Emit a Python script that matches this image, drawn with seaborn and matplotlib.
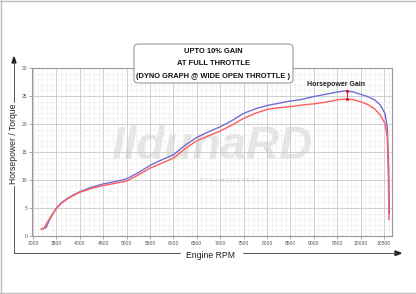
import matplotlib
matplotlib.use("Agg")
import matplotlib.pyplot as plt
from matplotlib.patches import FancyBboxPatch
from matplotlib.lines import Line2D
from matplotlib.ticker import MultipleLocator
import seaborn as sns
import pandas as pd

# ---- data ----
tuned_rpm = [3190, 3280, 3350, 3420, 3500, 3600, 3750, 3900, 4000, 4250, 4500, 4750,
             5000, 5250, 5500, 5750, 6000, 6250, 6500, 6750, 7000, 7250, 7500, 7750,
             8000, 8250, 8500, 8750, 9000, 9250, 9500, 9700, 9850, 10000, 10150, 10300,
             10420, 10520, 10570, 10600, 10615]
tuned_val = [1.3, 1.5, 2.8, 3.9, 5.0, 5.9, 6.8, 7.5, 7.9, 8.7, 9.3, 9.7,
             10.2, 11.3, 12.6, 13.6, 14.5, 16.2, 17.6, 18.6, 19.5, 20.6, 21.9, 22.7,
             23.3, 23.7, 24.1, 24.4, 24.9, 25.3, 25.7, 25.95, 25.7, 25.3, 24.9, 24.3,
             23.4, 21.9, 19.5, 12.0, 4.0]
stock_rpm = [3170, 3230, 3300, 3400, 3500, 3600, 3750, 3900, 4000, 4250, 4500, 4750,
             5000, 5250, 5500, 5750, 6000, 6250, 6500, 6750, 7000, 7250, 7500, 7750,
             8000, 8250, 8500, 8750, 9000, 9250, 9500, 9700, 9850, 10000, 10150, 10300,
             10420, 10520, 10570, 10595, 10605]
stock_val = [1.2, 1.3, 2.4, 3.7, 4.9, 5.8, 6.7, 7.4, 7.8, 8.5, 9.0, 9.4,
             9.8, 10.9, 12.1, 13.0, 13.9, 15.6, 17.0, 17.9, 18.75, 19.8, 21.0, 21.9,
             22.6, 22.9, 23.1, 23.4, 23.6, 23.9, 24.3, 24.5, 24.3, 24.0, 23.5, 22.7,
             21.6, 20.1, 17.7, 10.0, 2.9]
x_ticks = [3000, 3500, 4000, 4500, 5000, 5500, 6000, 6500, 7000, 7500, 8000, 8500,
           9000, 9500, 10000, 10500]
y_ticks = [0, 5, 10, 15, 20, 25, 30]
gain_rpm = 9720
gain_top = 25.9
gain_bottom = 24.5
title_lines = ["UPTO 10% GAIN", "AT FULL THROTTLE", "(DYNO GRAPH @ WIDE OPEN THROTTLE )"]

df = pd.concat([
    pd.DataFrame({"rpm": tuned_rpm, "value": tuned_val, "run": "Tuned"}),
    pd.DataFrame({"rpm": stock_rpm, "value": stock_val, "run": "Stock"}),
])

sns.set_theme(style="white")
plt.rcParams["font.family"] = ["Liberation Sans", "DejaVu Sans"]

W, H = 416, 294
fig = plt.figure(figsize=(W / 100, H / 100), dpi=100)
fig.patch.set_facecolor("white")

ax = fig.add_axes([32 / W, 1 - 236 / H, 360 / W, 168 / H])
ax.set_facecolor("white")

# watermark
ax.text(0.50, 0.53, "IldunaRD", transform=ax.transAxes, fontsize=33, fontweight="bold",
        fontstyle="italic", color="#e4e4e4", ha="center", va="center", zorder=0.5)
ax.text(0.55, 0.33, "D Y N A M O M E T E R S", transform=ax.transAxes, fontsize=3.8,
        color="#cfcfcf", ha="center", va="center", zorder=0.5)

sns.lineplot(data=df, x="rpm", y="value", hue="run", hue_order=["Tuned", "Stock"],
             palette={"Tuned": "#6f6fd2", "Stock": "#ff5c5c"}, linewidth=1.0,
             legend=False, ax=ax, sort=False, zorder=3)

# gain marker
ax.plot([gain_rpm, gain_rpm], [gain_bottom, gain_top], color="#e02020", lw=0.7,
        marker="o", markersize=1.3, zorder=4)
ax.text(gain_rpm - 250, 26.4, "Horsepower Gain", fontsize=5.0, fontweight="bold",
        color="#222222", ha="center", va="bottom", zorder=5)

ax.set_xlim(2979, 10671)
ax.set_ylim(0, 30)
ax.set_xticks(x_ticks)
ax.set_yticks(y_ticks)
ax.xaxis.set_minor_locator(MultipleLocator(100))
ax.yaxis.set_minor_locator(MultipleLocator(1))
ax.grid(which="major", color="#c8c8c8", lw=0.6)
ax.grid(which="minor", color="#ececec", lw=0.4)
ax.set_axisbelow(True)
ax.tick_params(which="major", length=2, width=0.5, color="#888888", labelsize=3.6,
               labelcolor="#555555", pad=1.5, bottom=True, left=True)
ax.tick_params(which="minor", length=0)
for s in ax.spines.values():
    s.set_color("#9a9a9a")
    s.set_linewidth(0.8)
ax.set_xlabel("")
ax.set_ylabel("")

# arrowed axis labels (figure pixel coords)
def fx(px):
    return px / W

def fy(py):
    return 1 - py / H

lc = "#555555"
fig.add_artist(Line2D([fx(14), fx(14)], [fy(253), fy(186)], color=lc, lw=0.7))
fig.add_artist(Line2D([fx(14), fx(14)], [fy(102), fy(62)], color=lc, lw=0.7))
fig.add_artist(Line2D([fx(14), fx(180)], [fy(253), fy(253)], color=lc, lw=0.7))
fig.add_artist(Line2D([fx(243), fx(396)], [fy(253), fy(253)], color=lc, lw=0.7))
fig.patches.append(plt.Polygon([[fx(12), fy(63)], [fx(16), fy(63)], [fx(14), fy(57)]],
                               closed=True, color="#222222", transform=fig.transFigure))
fig.patches.append(plt.Polygon([[fx(395), fy(251)], [fx(395), fy(255.5)], [fx(401), fy(253.2)]],
                               closed=True, color="#222222", transform=fig.transFigure))
fig.text(fx(14), fy(144), "Horsepower / Torque", rotation=90, fontsize=6.2,
         color="#222222", ha="center", va="center")
fig.text(fx(211), fy(255), "Engine RPM", fontsize=6.2, color="#222222",
         ha="center", va="center")

# outer frame (top, left, bottom)
fc = "#bdbdbd"
fig.add_artist(Line2D([0, 1], [fy(0.5), fy(0.5)], color=fc, lw=1))
fig.add_artist(Line2D([fx(0.5), fx(0.5)], [0, 1], color=fc, lw=1))
fig.add_artist(Line2D([0, 1], [fy(292.5), fy(292.5)], color=fc, lw=1))

# title box
box = FancyBboxPatch((fx(134), fy(83)), fx(293) - fx(134), fy(44) - fy(83),
                     boxstyle="round,pad=0,rounding_size=0.012", transform=fig.transFigure,
                     facecolor="white", edgecolor="#9a9a9a", lw=0.8, zorder=10)
fig.patches.append(box)
for i, line in enumerate(title_lines):
    fig.text(fx(213.5), fy(51.5 + 12.3 * i), line, fontsize=5.4, fontweight="bold",
             color="#111111", ha="center", va="center", zorder=11)

fig.savefig("out.png", dpi=100, facecolor="white")
